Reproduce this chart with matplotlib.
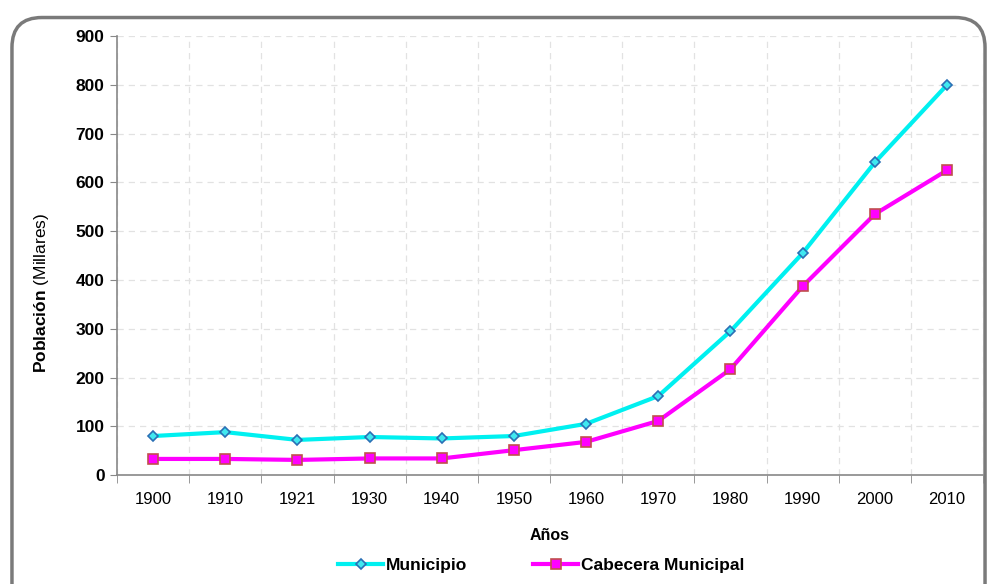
import matplotlib
matplotlib.use('Agg')
import matplotlib.pyplot as plt
from matplotlib.patches import FancyBboxPatch
import numpy as np

# Data (thousands of inhabitants)
years = ['1900', '1910', '1921', '1930', '1940', '1950',
         '1960', '1970', '1980', '1990', '2000', '2010']
municipio = [80, 88, 72, 78, 75, 80, 105, 162, 295, 455, 641, 800]
cabecera = [33, 33, 31, 34, 34, 51, 68, 111, 217, 387, 535, 625]

plt.rcParams['font.family'] = ['Liberation Sans', 'DejaVu Sans']
plt.rcParams['mathtext.fontset'] = 'custom'
plt.rcParams['mathtext.rm'] = 'Liberation Sans'
plt.rcParams['mathtext.bf'] = 'Liberation Sans:bold'

fig = plt.figure(figsize=(9.97, 5.84), dpi=100)

# rounded grey frame around the whole chart
frame = FancyBboxPatch((0.012, -0.05), 0.976, 1.02,
                       boxstyle='round,pad=0,rounding_size=0.03',
                       transform=fig.transFigure, facecolor='white',
                       edgecolor='#7a7a7a', linewidth=2.5,
                       mutation_aspect=997 / 584, zorder=-10)
fig.patches.append(frame)

ax = fig.add_axes([0.1174, 0.1866, 0.8686, 0.7514])
ax.set_facecolor('none')

x = np.arange(len(years))
ax.plot(x, municipio, color='#00f0f0', linewidth=3, marker='D', markersize=5,
        markerfacecolor='#40e8f0', markeredgecolor='#2a6fb5', markeredgewidth=1.2,
        label='Municipio', zorder=3)
ax.plot(x, cabecera, color='#ff00ff', linewidth=3, marker='s', markersize=7,
        markerfacecolor='#ff00ff', markeredgecolor='#c0504d', markeredgewidth=1.2,
        label='Cabecera Municipal', zorder=3)

ax.set_xlim(-0.5, len(years) - 0.5)
ax.set_ylim(0, 900)
ax.set_yticks(range(0, 901, 100))
ax.set_xticks(x)
ax.set_xticklabels(years)
ax.set_xticks(np.arange(-0.5, len(years), 1), minor=True)

ax.tick_params(axis='x', which='major', length=0, pad=12, labelsize=12)
ax.tick_params(axis='x', which='minor', length=6, color='#888888', direction='out')
ax.tick_params(axis='y', length=5, color='#888888', labelsize=12.5, pad=4)
for lab in ax.get_yticklabels():
    lab.set_fontweight('bold')

ax.grid(True, axis='y', which='major', linestyle=(0, (5, 4)), color='#e2e2e2', linewidth=0.9)
ax.grid(True, axis='x', which='minor', linestyle=(0, (5, 4)), color='#e2e2e2', linewidth=0.9)

for s in ['top', 'right']:
    ax.spines[s].set_visible(False)
for s in ['left', 'bottom']:
    ax.spines[s].set_color('#888888')
    ax.spines[s].set_linewidth(1.2)

ax.set_xlabel('Años', fontsize=11.5, fontweight='bold', labelpad=15)
ax.set_ylabel(r'$\mathbf{Población}$ (Millares)', fontsize=12.5)
ax.yaxis.set_label_coords(-0.076, 0.415)

leg = fig.legend(loc='center', bbox_to_anchor=(0.543, 0.031), ncol=2, frameon=False,
                 handlelength=2.6, columnspacing=3.8, handletextpad=0.15,
                 prop={'size': 12.5, 'weight': 'bold'})

fig.savefig('out.png', dpi=100)
